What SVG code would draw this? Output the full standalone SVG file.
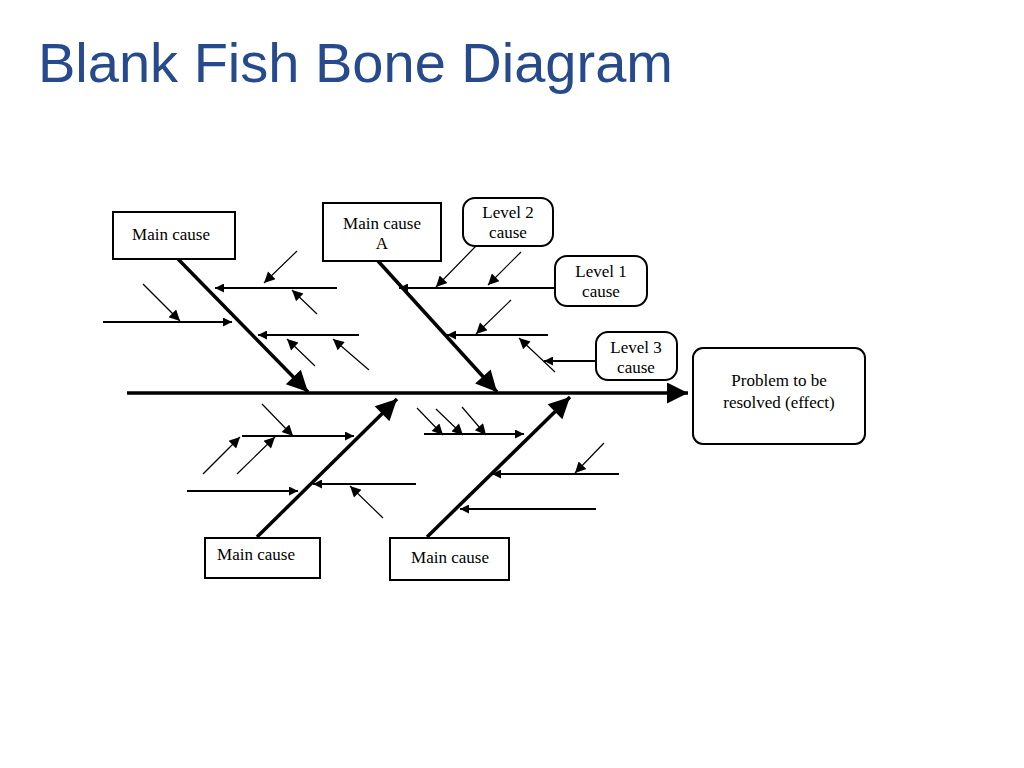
<svg xmlns="http://www.w3.org/2000/svg" width="1024" height="768" viewBox="0 0 1024 768">
<style>
.t{font-family:"Liberation Serif",serif;font-size:17px;fill:#000;text-anchor:middle}
.box{fill:#fff;stroke:#000;stroke-width:2}
.bone{stroke:#000;stroke-width:3.5;fill:none}
.sub{stroke:#000;stroke-width:1.8;fill:none}
.dg{stroke:#000;stroke-width:1.2;fill:none}
</style>
<defs>
<marker id="big" viewBox="0 0 10 10" refX="10" refY="5" markerWidth="8" markerHeight="6" markerUnits="strokeWidth" orient="auto"><path d="M0,0 L10,5 L0,10 Z"/></marker>
<marker id="sm" viewBox="0 0 10 10" refX="10" refY="5" markerWidth="8" markerHeight="5" markerUnits="strokeWidth" orient="auto"><path d="M0,0 L10,5 L0,10 Z"/></marker>
<marker id="dm" viewBox="0 0 10 10" refX="10" refY="5" markerWidth="14" markerHeight="9" markerUnits="strokeWidth" orient="auto"><path d="M0,0 L10,5 L0,10 Z"/></marker>
</defs>
<rect width="1024" height="768" fill="#fff"/>
<text x="38" y="82" font-family="Liberation Sans,Arial,sans-serif" font-size="56" fill="#264a8c">Blank Fish Bone Diagram</text>
<g id="connectors">
<line class="bone" x1="127" y1="393" x2="688" y2="393" marker-end="url(#big)"/>
<line class="bone" x1="178" y1="259" x2="308" y2="392" marker-end="url(#big)"/>
<line class="bone" x1="378" y1="261" x2="497" y2="392" marker-end="url(#big)"/>
<line class="bone" x1="257" y1="537" x2="397" y2="399" marker-end="url(#big)"/>
<line class="bone" x1="427" y1="537" x2="570" y2="397" marker-end="url(#big)"/>
<line class="sub" x1="337" y1="288" x2="215" y2="288" marker-end="url(#sm)"/>
<line class="dg" x1="297" y1="251" x2="264" y2="283" marker-end="url(#dm)"/>
<line class="dg" x1="317" y1="314" x2="292" y2="290" marker-end="url(#dm)"/>
<line class="sub" x1="103" y1="322" x2="232" y2="322" marker-end="url(#sm)"/>
<line class="dg" x1="143" y1="284" x2="180" y2="321" marker-end="url(#dm)"/>
<line class="sub" x1="359" y1="335" x2="258" y2="335" marker-end="url(#sm)"/>
<line class="dg" x1="315" y1="366" x2="287" y2="339" marker-end="url(#dm)"/>
<line class="dg" x1="369" y1="370" x2="333" y2="339" marker-end="url(#dm)"/>
<line class="sub" x1="555" y1="288" x2="399" y2="288" marker-end="url(#sm)"/>
<line class="dg" x1="476" y1="246" x2="436" y2="287" marker-end="url(#dm)"/>
<line class="dg" x1="521" y1="252" x2="488" y2="285" marker-end="url(#dm)"/>
<line class="sub" x1="548" y1="335" x2="447" y2="335" marker-end="url(#sm)"/>
<line class="dg" x1="511" y1="300" x2="476" y2="334" marker-end="url(#dm)"/>
<line class="sub" x1="596" y1="361" x2="544" y2="361" marker-end="url(#sm)"/>
<line class="dg" x1="555" y1="372" x2="519" y2="338" marker-end="url(#dm)"/>
<line class="sub" x1="242" y1="436" x2="354" y2="436" marker-end="url(#sm)"/>
<line class="dg" x1="262" y1="404" x2="293" y2="436" marker-end="url(#dm)"/>
<line class="dg" x1="203" y1="474" x2="240" y2="437" marker-end="url(#dm)"/>
<line class="dg" x1="237" y1="474" x2="275" y2="437" marker-end="url(#dm)"/>
<line class="sub" x1="187" y1="491" x2="298" y2="491" marker-end="url(#sm)"/>
<line class="sub" x1="416" y1="484" x2="313" y2="484" marker-end="url(#sm)"/>
<line class="dg" x1="383" y1="518" x2="350" y2="486" marker-end="url(#dm)"/>
<line class="sub" x1="424" y1="434" x2="524" y2="434" marker-end="url(#sm)"/>
<line class="dg" x1="417" y1="408" x2="443" y2="435" marker-end="url(#dm)"/>
<line class="dg" x1="436" y1="409" x2="463" y2="435" marker-end="url(#dm)"/>
<line class="dg" x1="462" y1="407" x2="486" y2="435" marker-end="url(#dm)"/>
<line class="sub" x1="619" y1="474" x2="492" y2="474" marker-end="url(#sm)"/>
<line class="dg" x1="604" y1="443" x2="575" y2="473" marker-end="url(#dm)"/>
<line class="sub" x1="596" y1="509" x2="460" y2="509" marker-end="url(#sm)"/>
</g>
<g id="main1"><rect class="box" x="113" y="212" width="122" height="47"/><text class="t" x="171" y="240">Main cause</text></g>
<g id="mainA"><rect class="box" x="323" y="203" width="118" height="58"/><text class="t" x="382" y="229">Main cause</text><text class="t" x="382" y="249">A</text></g>
<g id="level2"><rect class="box" x="463" y="198" width="90" height="48" rx="12"/><text class="t" x="508" y="218">Level 2</text><text class="t" x="508" y="238">cause</text></g>
<g id="level1"><rect class="box" x="555" y="256" width="92" height="50" rx="12"/><text class="t" x="601" y="277">Level 1</text><text class="t" x="601" y="297">cause</text></g>
<g id="level3"><rect class="box" x="596" y="332" width="81" height="48" rx="12"/><text class="t" x="636" y="353">Level 3</text><text class="t" x="636" y="373">cause</text></g>
<g id="problem"><rect class="box" x="693" y="348" width="172" height="96" rx="10"/><text class="t" x="779" y="386">Problem to be</text><text class="t" x="779" y="408">resolved (effect)</text></g>
<g id="main3"><rect class="box" x="205" y="538" width="115" height="40"/><text class="t" x="256" y="560">Main cause</text></g>
<g id="main4"><rect class="box" x="390" y="538" width="119" height="42"/><text class="t" x="450" y="563">Main cause</text></g>
</svg>
